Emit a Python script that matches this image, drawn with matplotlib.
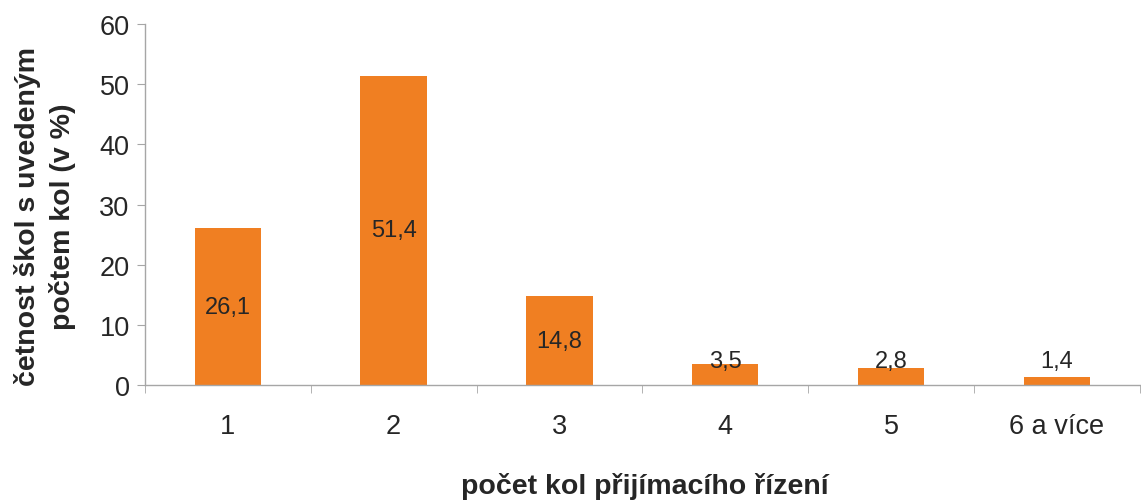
import matplotlib.pyplot as plt
import numpy as np

plt.rcParams['font.family'] = ['Liberation Sans', 'DejaVu Sans']

categories = ['1', '2', '3', '4', '5', '6 a více']
values = [26.1, 51.4, 14.8, 3.5, 2.8, 1.4]
value_labels = ['26,1', '51,4', '14,8', '3,5', '2,8', '1,4']

bar_color = '#F07F22'
axis_color = '#A6A6A6'
text_color = '#262626'

fig = plt.figure(figsize=(11.41, 5.02), dpi=100)
ax = fig.add_axes([0.127, 0.231, 0.872, 0.719])

x = np.arange(len(categories))
ax.bar(x, values, width=0.4, color=bar_color, zorder=2)

for xi, v, lab in zip(x, values, value_labels):
    ax.text(xi, max(v / 2, 4.0), lab, ha='center', va='center',
            fontsize=17, color=text_color, zorder=3)

ax.set_xlim(-0.5, len(categories) - 0.5)
ax.set_ylim(0, 60)
ax.set_yticks(np.arange(0, 61, 10))
ax.set_xticks(x)
ax.set_xticklabels(categories)
ax.set_xticks(np.arange(-0.5, len(categories), 1), minor=True)

for side in ['top', 'right']:
    ax.spines[side].set_visible(False)
for side in ['left', 'bottom']:
    ax.spines[side].set_color(axis_color)
    ax.spines[side].set_linewidth(1.0)

ax.tick_params(axis='x', which='major', length=0, pad=20, labelsize=19.5, labelcolor=text_color)
ax.tick_params(axis='x', which='minor', length=6, color=axis_color, direction='out')
ax.tick_params(axis='y', which='major', length=6, color=axis_color, direction='out',
               labelsize=19.5, labelcolor=text_color, pad=5)

fig.text(45 / 1141, 1 - 217 / 502, 'četnost škol s uvedeným\npočtem kol (v %)',
         rotation=90, ha='center', va='center', multialignment='center',
         fontsize=20.5, fontweight='bold', color=text_color, linespacing=1.4)
fig.text(645 / 1141, 1 - 487 / 502, 'počet kol přijímacího řízení',
         ha='center', va='center', fontsize=20.5, fontweight='bold', color=text_color)

fig.savefig('out.png', dpi=100)
